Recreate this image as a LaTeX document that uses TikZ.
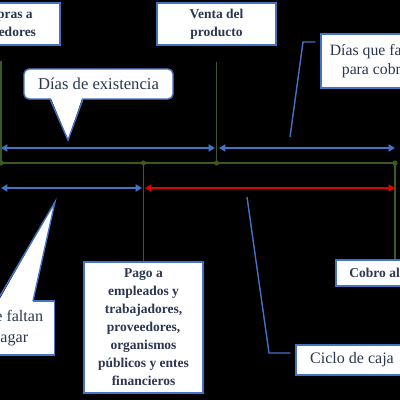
\documentclass[tikz,border=0pt]{standalone}
\usepackage{fontspec}
\setmainfont{Liberation Serif}
\usepackage{tikz}
\usetikzlibrary{arrows.meta,calc}
\definecolor{cblue}{HTML}{4472C4}
\definecolor{cgreen}{HTML}{3B5A23}
\definecolor{cred}{HTML}{E00000}
\definecolor{cink}{HTML}{2B3650}

\begin{document}
\begin{tikzpicture}[
  x=0.025cm, y=-0.025cm,
  boxb/.style={draw=cblue, fill=white, line width=1pt, align=center, inner sep=0pt, text=cink, font=\fontsize{9.6}{12.8}\selectfont\bfseries},
  boxr/.style={draw=cblue, fill=white, line width=1pt, align=center, inner sep=0pt, text=cink, font=\fontsize{11.4}{15}\selectfont},
  gline/.style={draw=cgreen, line width=1pt},
  barrow/.style={draw=cblue, line width=1.4pt, {Triangle[length=4.5pt,width=5pt]}-{Triangle[length=4.5pt,width=5pt]}},
  rarrow/.style={draw=cred, line width=1.4pt, {Triangle[length=4.5pt,width=5pt]}-{Triangle[length=4.5pt,width=5pt]}},
  lead/.style={draw=cblue, line width=1pt, shorten >=0.12cm},
  callside/.style={draw=cblue, line width=1pt, line join=miter},
]
\useasboundingbox (0,0) rectangle (400,400);
\fill[black] (0,0) rectangle (400,400);
\clip (0,0) rectangle (400,400);
% boxes
\node[boxb, minimum width=2.95cm, minimum height=1.05cm] (compras) at (1,24) {Compras a\\proveedores};
\node[boxb, minimum width=2.975cm, minimum height=1.05cm] (venta) at (216.5,24) {Venta del\\producto};
\node[boxr, font=\fontsize{11.2}{14}\selectfont, minimum width=2.825cm, minimum height=1.35cm] (cobrar) at (377.5,61) {Días que faltan\\para cobrar};
\node[boxb, minimum width=2.975cm, minimum height=3.275cm] (pago) at (143.5,327.5) {Pago a\\empleados y\\trabajadores,\\proveedores,\\organismos\\públicos y entes\\financieros};
\node[boxb, minimum width=2.95cm, minimum height=0.65cm] (cobro) at (395,273) {Cobro al cliente};
\node[boxr, minimum width=2.8cm, minimum height=0.75cm] (ciclo) at (352,360) {Ciclo de caja};
% callouts
\node[boxr, font=\fontsize{11.8}{14}\selectfont, rounded corners=0.125cm, minimum width=3.725cm, minimum height=0.75cm] (exist) at (98.5,84) {Días de existencia};
\fill[white] (50.5,97) -- (82.5,97) -- (68,140) -- cycle;
\draw[callside] (50,99) -- (68,140) -- (83,99);
\node[boxr, minimum width=3cm, minimum height=1.35cm] (pagar) at (-5.5,328) {Días que faltan\\para pagar};
\fill[white] (-2.5,303) -- (32.5,303) -- (55,202) -- cycle;
\draw[callside] (-3,301) -- (55,202) -- (33,301);
% time line
\coordinate (p0) at (1,163);
\coordinate (p1) at (143.5,163);
\coordinate (p2) at (216.5,163);
\coordinate (p3) at (395,163);
\draw[gline] (p0) -- (p3);
\draw[gline, shorten <=0.375cm] (compras.south) -- (p0);
\draw[gline, shorten <=0.4cm] (venta.south) -- (p2);
\draw[gline] (p1) -- (pago.north);
\draw[gline] (p3) -- (cobro.north);
\foreach \p in {p0,p1,p2,p3} \fill[cgreen] (\p) circle (0.065cm);
% arrows
\coordinate (e0) at (1,148);
\coordinate (e1) at (215,148);
\coordinate (c0) at (219,148);
\coordinate (c1) at (395,148);
\coordinate (f0) at (1,188);
\coordinate (f1) at (142,188);
\coordinate (k0) at (145,188);
\coordinate (k1) at (395,188);
\foreach \a/\b in {e0/e1, c0/c1, f0/f1} \draw[barrow] (\a) -- (\b);
\draw[rarrow] (k0) -- (k1);
% leaders
\coordinate (lc0) at (290,137);
\coordinate (lc1) at (303,42);
\draw[lead] (lc0) -- (lc1) -- (lc1 -| cobrar.west);
\coordinate (lk0) at (247,197);
\coordinate (lk1) at (269,353);
\draw[lead] (lk0) -- (lk1) -- (lk1 -| ciclo.west);
\end{tikzpicture}
\end{document}
